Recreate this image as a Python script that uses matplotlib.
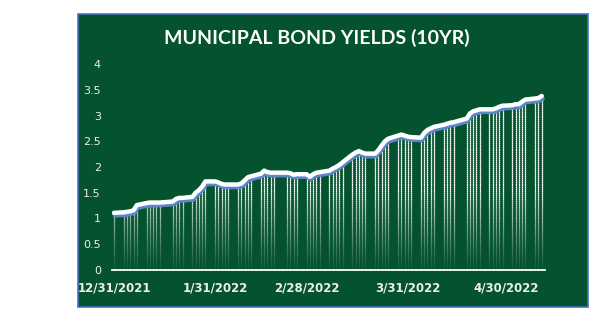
import numpy as np
import pandas as pd
import matplotlib
matplotlib.use("Agg")
import matplotlib.pyplot as plt
import matplotlib.dates as mdates
import matplotlib.transforms as mtransforms
from matplotlib.collections import LineCollection
from matplotlib.patches import Rectangle

title = "MUNICIPAL BOND YIELDS (10YR)"

dates = [
    "2021-12-31",
    "2022-01-03", "2022-01-04", "2022-01-05", "2022-01-06", "2022-01-07",
    "2022-01-10", "2022-01-11", "2022-01-12", "2022-01-13", "2022-01-14",
    "2022-01-18", "2022-01-19", "2022-01-20", "2022-01-21",
    "2022-01-24", "2022-01-25", "2022-01-26", "2022-01-27", "2022-01-28",
    "2022-01-31",
    "2022-02-01", "2022-02-02", "2022-02-03", "2022-02-04",
    "2022-02-07", "2022-02-08", "2022-02-09", "2022-02-10", "2022-02-11",
    "2022-02-14", "2022-02-15", "2022-02-16", "2022-02-17", "2022-02-18",
    "2022-02-22", "2022-02-23", "2022-02-24", "2022-02-25",
    "2022-02-28",
    "2022-03-01", "2022-03-02", "2022-03-03", "2022-03-04",
    "2022-03-07", "2022-03-08", "2022-03-09", "2022-03-10", "2022-03-11",
    "2022-03-14", "2022-03-15", "2022-03-16", "2022-03-17", "2022-03-18",
    "2022-03-21", "2022-03-22", "2022-03-23", "2022-03-24", "2022-03-25",
    "2022-03-28", "2022-03-29", "2022-03-30", "2022-03-31",
    "2022-04-01",
    "2022-04-04", "2022-04-05", "2022-04-06", "2022-04-07", "2022-04-08",
    "2022-04-11", "2022-04-12", "2022-04-13", "2022-04-14",
    "2022-04-18", "2022-04-19", "2022-04-20", "2022-04-21", "2022-04-22",
    "2022-04-25", "2022-04-26", "2022-04-27", "2022-04-28", "2022-04-29",
    "2022-05-02", "2022-05-03", "2022-05-04", "2022-05-05", "2022-05-06",
    "2022-05-09", "2022-05-10", "2022-05-11",
]

yields = [
    1.11,
    1.12, 1.13, 1.14, 1.16, 1.26,
    1.30, 1.31, 1.31, 1.31, 1.31,
    1.33, 1.38, 1.40, 1.40,
    1.42, 1.50, 1.55, 1.62, 1.72,
    1.72,
    1.70, 1.67, 1.66, 1.66,
    1.66, 1.68, 1.74, 1.80, 1.82,
    1.87, 1.93, 1.90, 1.89, 1.89,
    1.89, 1.88, 1.85, 1.86,
    1.86,
    1.81, 1.86, 1.89, 1.90,
    1.93, 1.97, 2.00, 2.04, 2.09,
    2.24, 2.28, 2.31, 2.28, 2.26,
    2.26, 2.33, 2.42, 2.50, 2.55,
    2.61, 2.63, 2.61, 2.59,
    2.58,
    2.57, 2.66, 2.72, 2.75, 2.78,
    2.82, 2.84, 2.86, 2.87,
    2.94, 3.04, 3.08, 3.10, 3.12,
    3.12, 3.12, 3.14, 3.17, 3.19,
    3.20, 3.22, 3.22, 3.27, 3.31,
    3.33, 3.34, 3.38,
]

tick_dates = ["2021-12-31", "2022-01-31", "2022-02-28", "2022-03-31", "2022-04-30"]
tick_labels = ["12/31/2021", "1/31/2022", "2/28/2022", "3/31/2022", "4/30/2022"]
y_ticks = [0, 0.5, 1, 1.5, 2, 2.5, 3, 3.5, 4]
y_tick_labels = ["0", "0.5", "1", "1.5", "2", "2.5", "3", "3.5", "4"]

GREEN = "#05532E"
W, H = 609, 328
fig = plt.figure(figsize=(W / 100, H / 100), dpi=100)
fig.patch.set_facecolor("white")

# green panel with blue border
panel = Rectangle((78 / W, 1 - 307 / H), (588 - 78) / W, (307 - 14) / H,
                  transform=fig.transFigure, facecolor=GREEN,
                  edgecolor="#4472C4", linewidth=1.2, zorder=-10)
fig.patches.append(panel)

ax = fig.add_axes([112 / W, 1 - 270 / H, (545 - 112) / W, (270 - 64) / H])
ax.set_facecolor("none")
ax.set_zorder(5)

x = mdates.date2num(pd.to_datetime(dates))
y = np.array(yields)

# drop lines with fading gradient
segs, cols = [], []
step = 0.04
for xi, yi in zip(x, y):
    v = 0.0
    while v < yi:
        v2 = min(v + step, yi)
        segs.append([(xi, v), (xi, v2)])
        a = min(1.0, 0.05 + (v / 1.6) ** 1.2)
        cols.append((1, 1, 1, a))
        v = v2
lc = LineCollection(segs, colors=cols, linewidths=0.9, zorder=2)
ax.add_collection(lc)

# shadow line
shadow_tr = ax.transData + mtransforms.ScaledTranslation(0.8 / 100, -2.6 / 100, fig.dpi_scale_trans)
ax.plot(x, y, color="#5B86C9", linewidth=3.2, transform=shadow_tr, zorder=3,
        solid_capstyle="round", solid_joinstyle="round")
ax.plot(x, y, color="white", linewidth=3.2, zorder=4,
        solid_capstyle="round", solid_joinstyle="round")

ax.set_ylim(0, 4)
ax.set_xlim(x[0] - 0.6, x[-1] + 1.0)

for s in ["top", "right", "left"]:
    ax.spines[s].set_visible(False)
ax.spines["bottom"].set_color("white")
ax.spines["bottom"].set_linewidth(1.3)

ax.set_yticks(y_ticks)
ax.set_yticklabels(y_tick_labels)
ax.set_xticks(mdates.date2num(pd.to_datetime(tick_dates)))
ax.set_xticklabels(tick_labels)
ax.tick_params(axis="both", length=0, colors="#EDEDED")
ax.tick_params(axis="y", pad=8, labelsize=8)
ax.tick_params(axis="x", pad=8, labelsize=8.5)
for lab in ax.get_xticklabels():
    lab.set_fontweight("bold")

fig.text(317 / W, 1 - 38 / H, title, ha="center", va="center",
         color="white", fontsize=14, fontweight="bold", family="Lato")

fig.savefig("out.png", dpi=100, facecolor="white")
